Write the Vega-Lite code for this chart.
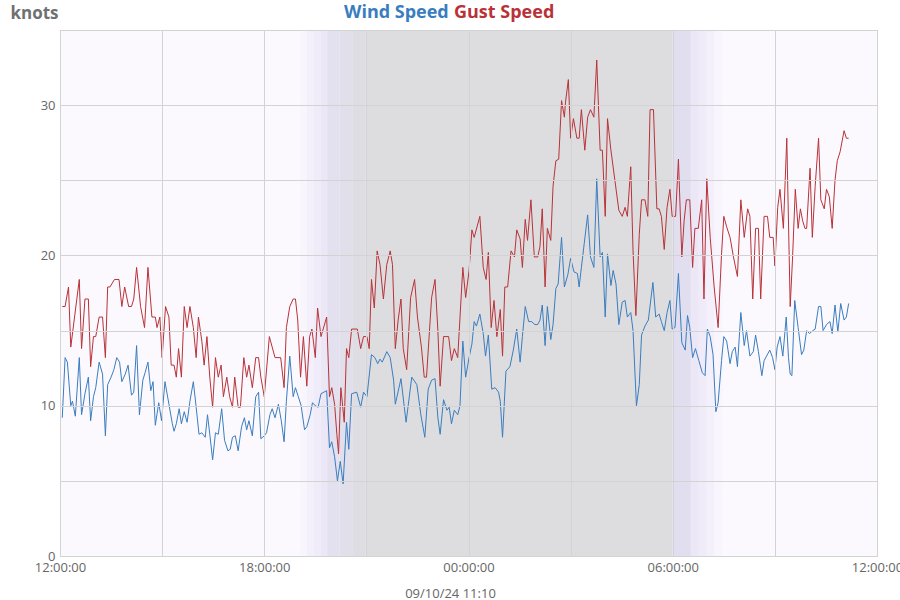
{
  "$schema": "https://vega.github.io/schema/vega-lite/v6.json",
  "autosize": {"type": "none"},
  "width": 817,
  "height": 526,
  "padding": {"left": 60, "top": 30, "right": 23, "bottom": 44},
  "background": "white",
  "config": {
    "view": {"fill": "#fbf9fe", "stroke": "#cfcfcf", "strokeWidth": 1},
    "font": "Open Sans"
  },
  "datasets": {
    "gust": [
      {"t":"2024-09-09T12:04","v":16.6},{"t":"2024-09-09T12:09","v":16.6},{"t":"2024-09-09T12:15","v":17.9},{"t":"2024-09-09T12:19","v":13.9},{"t":"2024-09-09T12:34","v":18.4},{"t":"2024-09-09T12:38","v":13.8},{"t":"2024-09-09T12:44","v":17.1},{"t":"2024-09-09T12:50","v":17.1},{"t":"2024-09-09T12:54","v":12.6},{"t":"2024-09-09T12:59","v":14.6},
      {"t":"2024-09-09T13:03","v":14.6},{"t":"2024-09-09T13:09","v":15.9},{"t":"2024-09-09T13:15","v":15.9},{"t":"2024-09-09T13:20","v":13.2},{"t":"2024-09-09T13:24","v":17.9},{"t":"2024-09-09T13:28","v":17.9},{"t":"2024-09-09T13:36","v":18.4},{"t":"2024-09-09T13:44","v":18.4},{"t":"2024-09-09T13:49","v":16.6},{"t":"2024-09-09T13:54","v":17.9},
      {"t":"2024-09-09T14:01","v":16.6},{"t":"2024-09-09T14:06","v":16.6},{"t":"2024-09-09T14:10","v":17.1},{"t":"2024-09-09T14:15","v":19.2},{"t":"2024-09-09T14:22","v":16.6},{"t":"2024-09-09T14:29","v":15.2},{"t":"2024-09-09T14:35","v":19.2},{"t":"2024-09-09T14:42","v":15.9},{"t":"2024-09-09T14:48","v":15.9},{"t":"2024-09-09T14:51","v":15.2},{"t":"2024-09-09T14:56","v":15.9},
      {"t":"2024-09-09T15:00","v":13.2},{"t":"2024-09-09T15:06","v":16.6},{"t":"2024-09-09T15:12","v":15.9},{"t":"2024-09-09T15:16","v":12.7},{"t":"2024-09-09T15:21","v":12.7},{"t":"2024-09-09T15:25","v":11.9},{"t":"2024-09-09T15:29","v":13.8},{"t":"2024-09-09T15:34","v":11.9},{"t":"2024-09-09T15:39","v":16.6},{"t":"2024-09-09T15:44","v":15.2},{"t":"2024-09-09T15:49","v":16.6},{"t":"2024-09-09T15:55","v":15.2},
      {"t":"2024-09-09T16:00","v":13.2},{"t":"2024-09-09T16:04","v":15.9},{"t":"2024-09-09T16:10","v":14.3},{"t":"2024-09-09T16:14","v":12.7},{"t":"2024-09-09T16:19","v":14.6},{"t":"2024-09-09T16:24","v":11.9},{"t":"2024-09-09T16:29","v":9.9},{"t":"2024-09-09T16:34","v":13.2},{"t":"2024-09-09T16:39","v":11.9},{"t":"2024-09-09T16:44","v":12.7},{"t":"2024-09-09T16:48","v":10.6},{"t":"2024-09-09T16:54","v":11.9},{"t":"2024-09-09T16:59","v":10.6},
      {"t":"2024-09-09T17:04","v":9.9},{"t":"2024-09-09T17:08","v":11.9},{"t":"2024-09-09T17:14","v":9.9},{"t":"2024-09-09T17:18","v":9.9},{"t":"2024-09-09T17:24","v":13.2},{"t":"2024-09-09T17:29","v":11.9},{"t":"2024-09-09T17:33","v":12.7},{"t":"2024-09-09T17:39","v":11.2},{"t":"2024-09-09T17:45","v":13.2},{"t":"2024-09-09T17:50","v":13.2},{"t":"2024-09-09T17:54","v":11.9},
      {"t":"2024-09-09T18:00","v":10.6},{"t":"2024-09-09T18:09","v":14.6},{"t":"2024-09-09T18:19","v":13.2},{"t":"2024-09-09T18:29","v":13.2},{"t":"2024-09-09T18:35","v":11.2},{"t":"2024-09-09T18:39","v":15.2},{"t":"2024-09-09T18:45","v":16.6},{"t":"2024-09-09T18:51","v":17.1},{"t":"2024-09-09T18:55","v":17.1},{"t":"2024-09-09T18:59","v":15.7},
      {"t":"2024-09-09T19:04","v":11.9},{"t":"2024-09-09T19:09","v":14.6},{"t":"2024-09-09T19:15","v":11.3},{"t":"2024-09-09T19:20","v":14.6},{"t":"2024-09-09T19:24","v":15.1},{"t":"2024-09-09T19:30","v":13.2},{"t":"2024-09-09T19:34","v":16.5},{"t":"2024-09-09T19:40","v":14.6},{"t":"2024-09-09T19:50","v":15.9},{"t":"2024-09-09T19:55","v":10.6},{"t":"2024-09-09T19:59","v":11.2},
      {"t":"2024-09-09T20:04","v":10.1},{"t":"2024-09-09T20:08","v":8.1},{"t":"2024-09-09T20:11","v":6.8},{"t":"2024-09-09T20:15","v":11.2},{"t":"2024-09-09T20:21","v":8.9},{"t":"2024-09-09T20:25","v":13.8},{"t":"2024-09-09T20:29","v":13.2},{"t":"2024-09-09T20:34","v":15.1},{"t":"2024-09-09T20:44","v":15.1},{"t":"2024-09-09T20:50","v":13.8},{"t":"2024-09-09T20:55","v":14.6},
      {"t":"2024-09-09T21:01","v":14.6},{"t":"2024-09-09T21:05","v":13.8},{"t":"2024-09-09T21:09","v":18.4},{"t":"2024-09-09T21:14","v":16.5},{"t":"2024-09-09T21:19","v":20.3},{"t":"2024-09-09T21:24","v":19.4},{"t":"2024-09-09T21:30","v":17.1},{"t":"2024-09-09T21:36","v":19.4},{"t":"2024-09-09T21:42","v":20.3},{"t":"2024-09-09T21:46","v":19.4},{"t":"2024-09-09T21:51","v":13.8},{"t":"2024-09-09T21:56","v":15.7},
      {"t":"2024-09-09T22:01","v":17.1},{"t":"2024-09-09T22:05","v":13.8},{"t":"2024-09-09T22:11","v":12.4},{"t":"2024-09-09T22:18","v":17.2},{"t":"2024-09-09T22:25","v":18.4},{"t":"2024-09-09T22:30","v":15.9},{"t":"2024-09-09T22:37","v":13.9},{"t":"2024-09-09T22:42","v":11.9},{"t":"2024-09-09T22:46","v":11.9},{"t":"2024-09-09T22:55","v":17.2},
      {"t":"2024-09-09T23:01","v":18.4},{"t":"2024-09-09T23:06","v":15.0},{"t":"2024-09-09T23:10","v":11.3},{"t":"2024-09-09T23:16","v":14.6},{"t":"2024-09-09T23:25","v":14.6},{"t":"2024-09-09T23:30","v":13.0},{"t":"2024-09-09T23:35","v":13.8},{"t":"2024-09-09T23:41","v":13.2},{"t":"2024-09-09T23:50","v":19.2},{"t":"2024-09-09T23:55","v":17.2},
      {"t":"2024-09-10T00:01","v":19.0},{"t":"2024-09-10T00:06","v":21.7},{"t":"2024-09-10T00:10","v":21.2},{"t":"2024-09-10T00:20","v":22.6},{"t":"2024-09-10T00:26","v":19.2},{"t":"2024-09-10T00:31","v":18.4},{"t":"2024-09-10T00:35","v":20.2},{"t":"2024-09-10T00:40","v":15.2},{"t":"2024-09-10T00:45","v":17.0},{"t":"2024-09-10T00:50","v":14.6},{"t":"2024-09-10T00:56","v":16.4},
      {"t":"2024-09-10T01:00","v":13.3},{"t":"2024-09-10T01:04","v":17.9},{"t":"2024-09-10T01:09","v":17.9},{"t":"2024-09-10T01:15","v":20.3},{"t":"2024-09-10T01:21","v":19.9},{"t":"2024-09-10T01:25","v":21.7},{"t":"2024-09-10T01:31","v":21.1},{"t":"2024-09-10T01:35","v":19.2},{"t":"2024-09-10T01:40","v":22.4},{"t":"2024-09-10T01:44","v":21.0},{"t":"2024-09-10T01:50","v":23.7},{"t":"2024-09-10T01:56","v":19.9},
      {"t":"2024-09-10T02:02","v":19.9},{"t":"2024-09-10T02:06","v":20.6},{"t":"2024-09-10T02:10","v":23.1},{"t":"2024-09-10T02:15","v":17.9},{"t":"2024-09-10T02:19","v":21.8},{"t":"2024-09-10T02:25","v":21.0},{"t":"2024-09-10T02:29","v":24.6},{"t":"2024-09-10T02:34","v":26.3},{"t":"2024-09-10T02:39","v":26.4},{"t":"2024-09-10T02:44","v":30.3},{"t":"2024-09-10T02:49","v":29.2},{"t":"2024-09-10T02:51","v":30.2},{"t":"2024-09-10T02:56","v":31.7},
      {"t":"2024-09-10T03:00","v":27.8},{"t":"2024-09-10T03:05","v":29.1},{"t":"2024-09-10T03:11","v":27.8},{"t":"2024-09-10T03:15","v":27.8},{"t":"2024-09-10T03:19","v":29.7},{"t":"2024-09-10T03:25","v":27.0},{"t":"2024-09-10T03:30","v":29.2},{"t":"2024-09-10T03:35","v":29.7},{"t":"2024-09-10T03:41","v":29.2},{"t":"2024-09-10T03:46","v":33.0},{"t":"2024-09-10T03:52","v":27.0},{"t":"2024-09-10T03:56","v":27.0},
      {"t":"2024-09-10T04:01","v":22.6},{"t":"2024-09-10T04:05","v":29.1},{"t":"2024-09-10T04:11","v":27.0},{"t":"2024-09-10T04:18","v":25.0},{"t":"2024-09-10T04:25","v":23.0},{"t":"2024-09-10T04:31","v":22.6},{"t":"2024-09-10T04:36","v":23.2},{"t":"2024-09-10T04:40","v":22.6},{"t":"2024-09-10T04:46","v":25.9},{"t":"2024-09-10T04:50","v":20.3},{"t":"2024-09-10T04:55","v":16.0},
      {"t":"2024-09-10T05:01","v":21.4},{"t":"2024-09-10T05:05","v":23.7},{"t":"2024-09-10T05:11","v":23.7},{"t":"2024-09-10T05:16","v":22.6},{"t":"2024-09-10T05:20","v":29.7},{"t":"2024-09-10T05:26","v":29.7},{"t":"2024-09-10T05:32","v":23.1},{"t":"2024-09-10T05:36","v":23.1},{"t":"2024-09-10T05:40","v":22.6},{"t":"2024-09-10T05:45","v":20.4},{"t":"2024-09-10T05:50","v":23.2},{"t":"2024-09-10T05:55","v":24.4},{"t":"2024-09-10T05:59","v":22.6},
      {"t":"2024-09-10T06:05","v":22.6},{"t":"2024-09-10T06:10","v":26.4},{"t":"2024-09-10T06:16","v":19.9},{"t":"2024-09-10T06:20","v":22.3},{"t":"2024-09-10T06:24","v":23.7},{"t":"2024-09-10T06:30","v":23.7},{"t":"2024-09-10T06:35","v":19.2},{"t":"2024-09-10T06:39","v":21.8},{"t":"2024-09-10T06:45","v":21.8},{"t":"2024-09-10T06:51","v":23.7},{"t":"2024-09-10T06:55","v":17.1},
      {"t":"2024-09-10T07:00","v":25.1},{"t":"2024-09-10T07:06","v":21.2},{"t":"2024-09-10T07:13","v":17.9},{"t":"2024-09-10T07:20","v":15.2},{"t":"2024-09-10T07:26","v":20.1},{"t":"2024-09-10T07:30","v":22.6},{"t":"2024-09-10T07:35","v":21.9},{"t":"2024-09-10T07:41","v":21.2},{"t":"2024-09-10T07:47","v":19.9},{"t":"2024-09-10T07:54","v":18.6},
      {"t":"2024-09-10T08:00","v":23.7},{"t":"2024-09-10T08:06","v":21.2},{"t":"2024-09-10T08:12","v":23.1},{"t":"2024-09-10T08:16","v":22.6},{"t":"2024-09-10T08:21","v":17.1},{"t":"2024-09-10T08:26","v":21.8},{"t":"2024-09-10T08:31","v":21.8},{"t":"2024-09-10T08:35","v":17.1},{"t":"2024-09-10T08:41","v":22.6},{"t":"2024-09-10T08:47","v":22.6},{"t":"2024-09-10T08:51","v":21.2},{"t":"2024-09-10T08:57","v":21.2},
      {"t":"2024-09-10T09:00","v":19.3},{"t":"2024-09-10T09:05","v":23.2},{"t":"2024-09-10T09:09","v":24.4},{"t":"2024-09-10T09:15","v":21.8},{"t":"2024-09-10T09:21","v":27.8},{"t":"2024-09-10T09:27","v":16.6},{"t":"2024-09-10T09:31","v":19.7},{"t":"2024-09-10T09:36","v":24.4},{"t":"2024-09-10T09:41","v":21.8},{"t":"2024-09-10T09:45","v":23.1},{"t":"2024-09-10T09:49","v":22.3},{"t":"2024-09-10T09:53","v":21.8},{"t":"2024-09-10T09:56","v":21.8},
      {"t":"2024-09-10T10:02","v":25.8},{"t":"2024-09-10T10:06","v":21.2},{"t":"2024-09-10T10:11","v":24.6},{"t":"2024-09-10T10:17","v":27.8},{"t":"2024-09-10T10:21","v":23.7},{"t":"2024-09-10T10:27","v":23.1},{"t":"2024-09-10T10:31","v":24.4},{"t":"2024-09-10T10:36","v":23.9},{"t":"2024-09-10T10:41","v":21.8},{"t":"2024-09-10T10:46","v":25.0},{"t":"2024-09-10T10:50","v":26.3},{"t":"2024-09-10T10:55","v":26.9},
      {"t":"2024-09-10T11:02","v":28.3},{"t":"2024-09-10T11:06","v":27.8},{"t":"2024-09-10T11:10","v":27.8}
    ],
    "wind": [
      {"t":"2024-09-09T12:04","v":9.2},{"t":"2024-09-09T12:09","v":13.2},{"t":"2024-09-09T12:13","v":12.9},{"t":"2024-09-09T12:19","v":10.0},{"t":"2024-09-09T12:22","v":10.3},{"t":"2024-09-09T12:27","v":9.3},{"t":"2024-09-09T12:34","v":13.2},{"t":"2024-09-09T12:38","v":9.4},{"t":"2024-09-09T12:44","v":10.8},{"t":"2024-09-09T12:50","v":11.9},{"t":"2024-09-09T12:54","v":9.0},{"t":"2024-09-09T12:59","v":10.6},
      {"t":"2024-09-09T13:03","v":11.2},{"t":"2024-09-09T13:09","v":12.9},{"t":"2024-09-09T13:15","v":12.1},{"t":"2024-09-09T13:20","v":8.0},{"t":"2024-09-09T13:24","v":11.4},{"t":"2024-09-09T13:30","v":11.9},{"t":"2024-09-09T13:35","v":12.4},{"t":"2024-09-09T13:40","v":13.2},{"t":"2024-09-09T13:45","v":12.9},{"t":"2024-09-09T13:49","v":11.6},{"t":"2024-09-09T13:55","v":12.1},
      {"t":"2024-09-09T14:00","v":12.7},{"t":"2024-09-09T14:06","v":10.7},{"t":"2024-09-09T14:10","v":10.9},{"t":"2024-09-09T14:15","v":14.0},{"t":"2024-09-09T14:20","v":9.4},{"t":"2024-09-09T14:26","v":11.7},{"t":"2024-09-09T14:30","v":12.2},{"t":"2024-09-09T14:35","v":12.9},{"t":"2024-09-09T14:40","v":11.0},{"t":"2024-09-09T14:44","v":11.6},{"t":"2024-09-09T14:48","v":8.7},{"t":"2024-09-09T14:54","v":10.2},{"t":"2024-09-09T14:59","v":9.0},
      {"t":"2024-09-09T15:05","v":11.6},{"t":"2024-09-09T15:12","v":10.1},{"t":"2024-09-09T15:18","v":8.8},{"t":"2024-09-09T15:21","v":8.3},{"t":"2024-09-09T15:25","v":8.8},{"t":"2024-09-09T15:30","v":9.8},{"t":"2024-09-09T15:34","v":8.8},{"t":"2024-09-09T15:39","v":9.6},{"t":"2024-09-09T15:44","v":8.9},{"t":"2024-09-09T15:49","v":10.3},{"t":"2024-09-09T15:55","v":11.6},
      {"t":"2024-09-09T16:00","v":9.9},{"t":"2024-09-09T16:05","v":8.1},{"t":"2024-09-09T16:10","v":8.2},{"t":"2024-09-09T16:16","v":7.9},{"t":"2024-09-09T16:20","v":9.4},{"t":"2024-09-09T16:24","v":8.1},{"t":"2024-09-09T16:29","v":6.4},{"t":"2024-09-09T16:34","v":8.2},{"t":"2024-09-09T16:39","v":8.1},{"t":"2024-09-09T16:45","v":9.8},{"t":"2024-09-09T16:50","v":7.7},{"t":"2024-09-09T16:56","v":7.0},
      {"t":"2024-09-09T17:00","v":7.1},{"t":"2024-09-09T17:04","v":7.9},{"t":"2024-09-09T17:09","v":8.0},{"t":"2024-09-09T17:14","v":7.0},{"t":"2024-09-09T17:20","v":8.6},{"t":"2024-09-09T17:25","v":9.2},{"t":"2024-09-09T17:29","v":8.4},{"t":"2024-09-09T17:33","v":9.0},{"t":"2024-09-09T17:39","v":8.0},{"t":"2024-09-09T17:45","v":10.6},{"t":"2024-09-09T17:50","v":10.9},{"t":"2024-09-09T17:54","v":7.8},
      {"t":"2024-09-09T18:00","v":8.0},{"t":"2024-09-09T18:04","v":8.2},{"t":"2024-09-09T18:10","v":9.4},{"t":"2024-09-09T18:14","v":9.8},{"t":"2024-09-09T18:19","v":9.2},{"t":"2024-09-09T18:25","v":10.1},{"t":"2024-09-09T18:30","v":9.0},{"t":"2024-09-09T18:35","v":7.6},{"t":"2024-09-09T18:39","v":10.3},{"t":"2024-09-09T18:45","v":13.3},{"t":"2024-09-09T18:51","v":10.6},{"t":"2024-09-09T18:55","v":11.2},
      {"t":"2024-09-09T19:00","v":10.6},{"t":"2024-09-09T19:05","v":10.0},{"t":"2024-09-09T19:11","v":8.4},{"t":"2024-09-09T19:15","v":8.6},{"t":"2024-09-09T19:21","v":9.4},{"t":"2024-09-09T19:25","v":10.2},{"t":"2024-09-09T19:30","v":10.0},{"t":"2024-09-09T19:35","v":9.9},{"t":"2024-09-09T19:40","v":10.8},{"t":"2024-09-09T19:50","v":11.0},{"t":"2024-09-09T19:55","v":7.2},{"t":"2024-09-09T19:59","v":7.6},
      {"t":"2024-09-09T20:04","v":6.6},{"t":"2024-09-09T20:09","v":5.0},{"t":"2024-09-09T20:14","v":6.3},{"t":"2024-09-09T20:19","v":4.8},{"t":"2024-09-09T20:25","v":8.9},{"t":"2024-09-09T20:29","v":7.1},{"t":"2024-09-09T20:34","v":10.8},{"t":"2024-09-09T20:43","v":10.9},{"t":"2024-09-09T20:50","v":9.9},{"t":"2024-09-09T20:55","v":10.9},
      {"t":"2024-09-09T21:01","v":10.6},{"t":"2024-09-09T21:09","v":13.4},{"t":"2024-09-09T21:15","v":13.2},{"t":"2024-09-09T21:20","v":12.8},{"t":"2024-09-09T21:24","v":13.1},{"t":"2024-09-09T21:28","v":12.9},{"t":"2024-09-09T21:36","v":13.6},{"t":"2024-09-09T21:42","v":13.2},{"t":"2024-09-09T21:48","v":11.7},{"t":"2024-09-09T21:51","v":10.1},
      {"t":"2024-09-09T22:01","v":11.8},{"t":"2024-09-09T22:10","v":8.9},{"t":"2024-09-09T22:20","v":11.9},{"t":"2024-09-09T22:29","v":11.4},{"t":"2024-09-09T22:36","v":9.4},{"t":"2024-09-09T22:43","v":7.9},{"t":"2024-09-09T22:49","v":11.1},{"t":"2024-09-09T22:55","v":11.7},
      {"t":"2024-09-09T23:01","v":11.8},{"t":"2024-09-09T23:06","v":9.2},{"t":"2024-09-09T23:10","v":8.1},{"t":"2024-09-09T23:16","v":10.4},{"t":"2024-09-09T23:22","v":9.7},{"t":"2024-09-09T23:26","v":9.9},{"t":"2024-09-09T23:30","v":8.8},{"t":"2024-09-09T23:35","v":9.7},{"t":"2024-09-09T23:41","v":9.4},{"t":"2024-09-09T23:45","v":10.0},{"t":"2024-09-09T23:50","v":14.3},{"t":"2024-09-09T23:55","v":11.9},
      {"t":"2024-09-10T00:01","v":13.2},{"t":"2024-09-10T00:06","v":14.1},{"t":"2024-09-10T00:10","v":15.6},{"t":"2024-09-10T00:14","v":15.3},{"t":"2024-09-10T00:20","v":16.1},{"t":"2024-09-10T00:26","v":14.8},{"t":"2024-09-10T00:30","v":13.3},{"t":"2024-09-10T00:35","v":14.7},{"t":"2024-09-10T00:41","v":11.1},{"t":"2024-09-10T00:47","v":11.2},{"t":"2024-09-10T00:53","v":10.9},{"t":"2024-09-10T00:56","v":10.3},
      {"t":"2024-09-10T01:00","v":7.9},{"t":"2024-09-10T01:06","v":12.3},{"t":"2024-09-10T01:13","v":12.6},{"t":"2024-09-10T01:19","v":13.7},{"t":"2024-09-10T01:25","v":15.1},{"t":"2024-09-10T01:31","v":12.9},{"t":"2024-09-10T01:35","v":14.6},{"t":"2024-09-10T01:40","v":16.6},{"t":"2024-09-10T01:46","v":15.6},{"t":"2024-09-10T01:51","v":15.6},{"t":"2024-09-10T01:57","v":15.4},
      {"t":"2024-09-10T02:02","v":15.4},{"t":"2024-09-10T02:06","v":15.7},{"t":"2024-09-10T02:10","v":16.7},{"t":"2024-09-10T02:15","v":14.0},{"t":"2024-09-10T02:19","v":16.6},{"t":"2024-09-10T02:25","v":14.4},{"t":"2024-09-10T02:29","v":15.4},{"t":"2024-09-10T02:34","v":17.8},{"t":"2024-09-10T02:38","v":18.1},{"t":"2024-09-10T02:44","v":21.2},{"t":"2024-09-10T02:49","v":17.9},{"t":"2024-09-10T02:55","v":18.7},
      {"t":"2024-09-10T03:00","v":19.8},{"t":"2024-09-10T03:06","v":18.9},{"t":"2024-09-10T03:12","v":18.8},{"t":"2024-09-10T03:15","v":17.9},{"t":"2024-09-10T03:19","v":19.2},{"t":"2024-09-10T03:24","v":20.8},{"t":"2024-09-10T03:30","v":22.7},{"t":"2024-09-10T03:35","v":19.9},{"t":"2024-09-10T03:41","v":19.2},{"t":"2024-09-10T03:46","v":25.1},{"t":"2024-09-10T03:52","v":19.9},{"t":"2024-09-10T03:56","v":20.2},
      {"t":"2024-09-10T04:01","v":15.9},{"t":"2024-09-10T04:05","v":20.1},{"t":"2024-09-10T04:11","v":18.0},{"t":"2024-09-10T04:15","v":19.0},{"t":"2024-09-10T04:20","v":18.1},{"t":"2024-09-10T04:25","v":15.4},{"t":"2024-09-10T04:31","v":16.9},{"t":"2024-09-10T04:36","v":17.0},{"t":"2024-09-10T04:40","v":15.9},{"t":"2024-09-10T04:46","v":16.2},{"t":"2024-09-10T04:50","v":15.0},{"t":"2024-09-10T04:56","v":10.0},
      {"t":"2024-09-10T05:01","v":11.4},{"t":"2024-09-10T05:05","v":14.7},{"t":"2024-09-10T05:11","v":15.3},{"t":"2024-09-10T05:17","v":15.7},{"t":"2024-09-10T05:25","v":18.2},{"t":"2024-09-10T05:30","v":15.9},{"t":"2024-09-10T05:36","v":16.1},{"t":"2024-09-10T05:40","v":15.6},{"t":"2024-09-10T05:45","v":15.0},{"t":"2024-09-10T05:50","v":16.2},{"t":"2024-09-10T05:55","v":17.0},{"t":"2024-09-10T05:59","v":15.1},
      {"t":"2024-09-10T06:04","v":15.2},{"t":"2024-09-10T06:10","v":18.8},{"t":"2024-09-10T06:16","v":14.2},{"t":"2024-09-10T06:22","v":13.7},{"t":"2024-09-10T06:26","v":16.0},{"t":"2024-09-10T06:30","v":15.2},{"t":"2024-09-10T06:35","v":13.2},{"t":"2024-09-10T06:40","v":13.8},{"t":"2024-09-10T06:46","v":13.0},{"t":"2024-09-10T06:52","v":12.2},{"t":"2024-09-10T06:57","v":12.0},
      {"t":"2024-09-10T07:01","v":15.1},{"t":"2024-09-10T07:06","v":14.6},{"t":"2024-09-10T07:11","v":13.4},{"t":"2024-09-10T07:16","v":9.6},{"t":"2024-09-10T07:20","v":10.2},{"t":"2024-09-10T07:26","v":13.0},{"t":"2024-09-10T07:30","v":14.6},{"t":"2024-09-10T07:35","v":14.3},{"t":"2024-09-10T07:41","v":12.8},{"t":"2024-09-10T07:45","v":13.6},{"t":"2024-09-10T07:50","v":13.9},{"t":"2024-09-10T07:54","v":12.6},
      {"t":"2024-09-10T08:00","v":16.2},{"t":"2024-09-10T08:06","v":14.0},{"t":"2024-09-10T08:10","v":15.0},{"t":"2024-09-10T08:16","v":13.3},{"t":"2024-09-10T08:22","v":13.6},{"t":"2024-09-10T08:26","v":14.7},{"t":"2024-09-10T08:31","v":13.6},{"t":"2024-09-10T08:37","v":12.0},{"t":"2024-09-10T08:41","v":13.0},{"t":"2024-09-10T08:51","v":13.7},{"t":"2024-09-10T08:56","v":13.2},
      {"t":"2024-09-10T09:00","v":12.4},{"t":"2024-09-10T09:04","v":13.9},{"t":"2024-09-10T09:09","v":14.6},{"t":"2024-09-10T09:14","v":13.3},{"t":"2024-09-10T09:20","v":15.9},{"t":"2024-09-10T09:24","v":13.2},{"t":"2024-09-10T09:27","v":12.1},{"t":"2024-09-10T09:30","v":12.0},{"t":"2024-09-10T09:35","v":17.0},{"t":"2024-09-10T09:41","v":15.2},{"t":"2024-09-10T09:47","v":13.4},{"t":"2024-09-10T09:51","v":13.7},{"t":"2024-09-10T09:56","v":15.0},
      {"t":"2024-09-10T10:01","v":14.8},{"t":"2024-09-10T10:07","v":15.0},{"t":"2024-09-10T10:11","v":15.1},{"t":"2024-09-10T10:17","v":16.6},{"t":"2024-09-10T10:21","v":16.6},{"t":"2024-09-10T10:25","v":15.0},{"t":"2024-09-10T10:31","v":15.4},{"t":"2024-09-10T10:37","v":15.6},{"t":"2024-09-10T10:41","v":14.8},{"t":"2024-09-10T10:46","v":16.7},{"t":"2024-09-10T10:51","v":14.9},{"t":"2024-09-10T10:56","v":16.8},
      {"t":"2024-09-10T11:02","v":15.7},{"t":"2024-09-10T11:06","v":15.9},{"t":"2024-09-10T11:10","v":16.8}
    ]
  },
  "layer": [
    {
      "data": {"values": [{"t": "2024-09-09T19:03", "t2": "2024-09-09T19:15"}]},
      "mark": {"type": "rect", "color": "#f8f5fd"},
      "encoding": {
        "x": {
          "field": "t",
          "type": "temporal",
          "scale": {"domain": [{"year": 2024, "month": 9, "date": 9, "hours": 12}, {"year": 2024, "month": 9, "date": 10, "hours": 12}], "nice": false},
          "axis": {
            "title": "09/10/24 11:10",
            "titleFont": "Open Sans",
            "titleFontWeight": "normal",
            "titleFontSize": 13,
            "titleColor": "#666666",
            "titleX": 390,
            "titleY": 37,
            "titleAlign": "center",
            "titleBaseline": "middle",
            "values": [
              {"year": 2024, "month": 9, "date": 9, "hours": 12},
              {"year": 2024, "month": 9, "date": 9, "hours": 15},
              {"year": 2024, "month": 9, "date": 9, "hours": 18},
              {"year": 2024, "month": 9, "date": 9, "hours": 21},
              {"year": 2024, "month": 9, "date": 10, "hours": 0},
              {"year": 2024, "month": 9, "date": 10, "hours": 3},
              {"year": 2024, "month": 9, "date": 10, "hours": 6},
              {"year": 2024, "month": 9, "date": 10, "hours": 9},
              {"year": 2024, "month": 9, "date": 10, "hours": 12}
            ],
            "format": "%H:%M:%S",
            "labelExpr": "hours(datum.value) % 6 == 0 ? datum.label : ''",
            "labelFont": "Open Sans",
            "labelFontSize": 13,
            "labelColor": "#666666",
            "labelFlush": false,
            "labelOverlap": false,
            "labelBound": false,
            "labelPadding": 5,
            "ticks": false,
            "domain": false,
            "grid": true,
            "gridColor": "#d3d3d3",
            "gridWidth": 1,
            "zindex": 1
          }
        },
        "x2": {"field": "t2"}
      }
    },
    {
      "data": {"values": [{"t": "2024-09-09T19:15", "t2": "2024-09-09T19:27"}]},
      "mark": {"type": "rect", "color": "#f4f0fb"},
      "encoding": {"x": {"field": "t", "type": "temporal"}, "x2": {"field": "t2"}}
    },
    {
      "data": {"values": [{"t": "2024-09-09T19:27", "t2": "2024-09-09T19:39"}]},
      "mark": {"type": "rect", "color": "#f0ebf9"},
      "encoding": {"x": {"field": "t", "type": "temporal"}, "x2": {"field": "t2"}}
    },
    {
      "data": {"values": [{"t": "2024-09-09T19:39", "t2": "2024-09-09T19:51"}]},
      "mark": {"type": "rect", "color": "#ece7f6"},
      "encoding": {"x": {"field": "t", "type": "temporal"}, "x2": {"field": "t2"}}
    },
    {
      "data": {"values": [{"t": "2024-09-09T19:51", "t2": "2024-09-09T20:13"}]},
      "mark": {"type": "rect", "color": "#e3e0ef"},
      "encoding": {"x": {"field": "t", "type": "temporal"}, "x2": {"field": "t2"}}
    },
    {
      "data": {"values": [{"t": "2024-09-09T20:13", "t2": "2024-09-09T20:35"}]},
      "mark": {"type": "rect", "color": "#e0dfea"},
      "encoding": {"x": {"field": "t", "type": "temporal"}, "x2": {"field": "t2"}}
    },
    {
      "data": {"values": [{"t": "2024-09-09T20:35", "t2": "2024-09-09T20:58"}]},
      "mark": {"type": "rect", "color": "#dedde4"},
      "encoding": {"x": {"field": "t", "type": "temporal"}, "x2": {"field": "t2"}}
    },
    {
      "data": {"values": [{"t": "2024-09-09T20:58", "t2": "2024-09-10T05:59"}]},
      "mark": {"type": "rect", "color": "#dddddf"},
      "encoding": {"x": {"field": "t", "type": "temporal"}, "x2": {"field": "t2"}}
    },
    {
      "data": {"values": [{"t": "2024-09-10T05:59", "t2": "2024-09-10T06:32"}]},
      "mark": {"type": "rect", "color": "#e1dfef"},
      "encoding": {"x": {"field": "t", "type": "temporal"}, "x2": {"field": "t2"}}
    },
    {
      "data": {"values": [{"t": "2024-09-10T06:32", "t2": "2024-09-10T06:46"}]},
      "mark": {"type": "rect", "color": "#ece7f7"},
      "encoding": {"x": {"field": "t", "type": "temporal"}, "x2": {"field": "t2"}}
    },
    {
      "data": {"values": [{"t": "2024-09-10T06:46", "t2": "2024-09-10T07:00"}]},
      "mark": {"type": "rect", "color": "#f0ebf9"},
      "encoding": {"x": {"field": "t", "type": "temporal"}, "x2": {"field": "t2"}}
    },
    {
      "data": {"values": [{"t": "2024-09-10T07:00", "t2": "2024-09-10T07:14"}]},
      "mark": {"type": "rect", "color": "#f4f0fb"},
      "encoding": {"x": {"field": "t", "type": "temporal"}, "x2": {"field": "t2"}}
    },
    {
      "data": {"values": [{"t": "2024-09-10T07:14", "t2": "2024-09-10T07:28"}]},
      "mark": {"type": "rect", "color": "#f8f5fd"},
      "encoding": {"x": {"field": "t", "type": "temporal"}, "x2": {"field": "t2"}}
    },
    {
      "data": {"name": "wind"},
      "mark": {"type": "line", "strokeWidth": 1},
      "encoding": {
        "x": {"field": "t", "type": "temporal"},
        "y": {
          "field": "v",
          "type": "quantitative",
          "scale": {"domain": [0, 35], "nice": false},
          "axis": {
            "title": "knots",
            "titleAngle": 0,
            "titleX": -50,
            "titleY": -17,
            "titleAlign": "left",
            "titleBaseline": "middle",
            "titleFont": "Open Sans",
            "titleFontSize": 17,
            "titleFontWeight": "bold",
            "titleColor": "#707070",
            "values": [0, 5, 10, 15, 20, 25, 30, 35],
            "labelExpr": "datum.value % 10 == 0 ? datum.label : ''",
            "labelFont": "Open Sans",
            "labelFontSize": 13,
            "labelColor": "#666666",
            "labelPadding": 5,
            "labelFlush": false,
            "ticks": false,
            "domain": false,
            "gridColor": "#d3d3d3",
            "gridWidth": 1,
            "zindex": 1
          }
        },
        "color": {
          "datum": "Wind Speed",
          "type": "nominal",
          "scale": {"domain": ["Wind Speed", "Gust Speed"], "range": ["#3a7dbf", "#b83238"]},
          "legend": {
            "title": null,
            "orient": "none",
            "legendX": 284,
            "legendY": -26,
            "direction": "horizontal",
            "symbolSize": 0,
            "symbolStrokeWidth": 0,
            "symbolOpacity": 0,
            "labelOffset": -18,
            "columnPadding": 5,
            "padding": 0,
            "labelFont": "Open Sans",
            "labelFontSize": 18,
            "labelFontWeight": "bold",
            "labelColor": {"expr": "datum.label == 'Wind Speed' ? '#3a7dbf' : '#b83238'"}
          }
        }
      }
    },
    {
      "data": {"name": "gust"},
      "mark": {"type": "line", "strokeWidth": 1},
      "encoding": {
        "x": {"field": "t", "type": "temporal"},
        "y": {"field": "v", "type": "quantitative", "title": "knots"},
        "color": {"datum": "Gust Speed", "type": "nominal"}
      }
    }
  ]
}
